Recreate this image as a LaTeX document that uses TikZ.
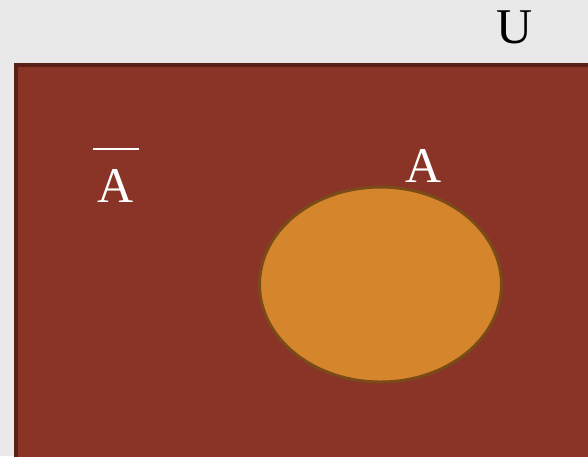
\documentclass[tikz,border=0pt]{standalone}
\usepackage{fontspec}
\setmainfont{Liberation Serif}
\usepackage{tikz}
\usetikzlibrary{positioning, calc}

\definecolor{paper}{HTML}{E9E9E9}
\definecolor{brick}{HTML}{893427}
\definecolor{brickdark}{HTML}{5A1F17}
\definecolor{amber}{HTML}{D5862C}
\definecolor{amberdark}{HTML}{7A4A18}

\tikzset{
    setlabel/.style={text=white, font=\fontsize{50}{60}\selectfont, anchor=base, inner sep=0pt},
}

\begin{document}
\begin{tikzpicture}[x=1pt, y=-1pt]
    % Background
    \fill[paper] (0,0) rectangle (588,456);
    \useasboundingbox (0,0) rectangle (588,456);
    \clip (0,0) rectangle (588,456);

    % Universe
    \draw[line width=3.5pt, draw=brickdark, fill=brick] (16,65) rectangle (620,490);
    \node[setlabel, text=black] (U) at (515,43) {U};

    % Set A
    \draw[line width=3pt, draw=amberdark, fill=amber] (380.5,284.5) ellipse (121pt and 97.5pt);
    \node[setlabel] (A) at (424,182) {A};

    % Complement
    \node[setlabel] (Abar) at (116,202) {A};
    \draw[white, line width=2pt] ($(Abar.north)+(-23,-20)$) -- ($(Abar.north)+(23,-20)$);
\end{tikzpicture}
\end{document}
